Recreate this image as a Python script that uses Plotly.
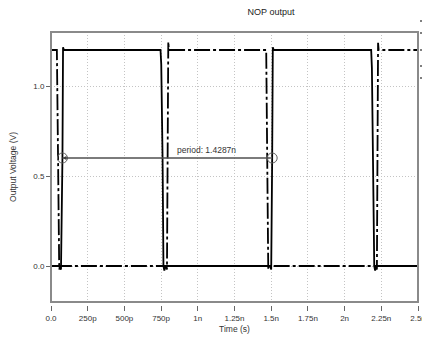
import plotly.graph_objects as go

# Time in ns, voltage in V
solid_t = [0.0, 0.055, 0.068, 0.078, 0.082, 0.088,
           0.746, 0.751, 0.760, 0.766, 0.772, 0.782,
           1.493, 1.500, 1.5067, 1.511, 1.517,
           2.181, 2.186, 2.195, 2.202, 2.208, 2.218, 2.5]
solid_v = [0.0, 0.0, -0.02, 0.6, 1.215, 1.2,
           1.2, 1.12, 0.6, 0.0, -0.025, 0.0,
           0.0, -0.02, 0.6, 1.215, 1.2,
           1.2, 1.1, 0.3, 0.0, -0.025, 0.0, 0.0]

dashdot_t = [0.0, 0.040, 0.048, 0.056, 0.062,
             0.785, 0.790, 0.795, 0.799, 0.803,
             1.466, 1.473, 1.480, 1.486,
             2.216, 2.220, 2.224, 2.228, 2.232, 2.5]
dashdot_v = [1.2, 1.2, 0.6, -0.02, 0.0,
             0.0, -0.02, 0.6, 1.245, 1.2,
             1.2, 0.6, -0.02, 0.0,
             0.0, -0.02, 0.6, 1.24, 1.2, 1.2]

x_ticks = [0.0, 0.25, 0.5, 0.75, 1.0, 1.25, 1.5, 1.75, 2.0, 2.25, 2.5]
x_labels = ["0.0", "250p", "500p", "750p", "1n", "1.25n", "1.5n", "1.75n", "2n", "2.25n", "2.5n"]
y_ticks = [0.0, 0.5, 1.0]
y_labels = ["0.0", "0.5", "1.0"]

period_start = 0.078
period = 1.4287
period_level = 0.6
period_label_pos = (1.06, 0.645)

font = "Liberation Sans, Arial, sans-serif"
grid = "#c4c4c4"

fig = go.Figure()
fig.add_trace(go.Scatter(x=dashdot_t, y=dashdot_v, mode="lines",
                         line=dict(color="black", width=1.8, dash="16px,3px,3px,3px"),
                         showlegend=False, hoverinfo="skip"))
fig.add_trace(go.Scatter(x=solid_t, y=solid_v, mode="lines",
                         line=dict(color="black", width=1.8),
                         showlegend=False, hoverinfo="skip"))

# period marker
p_end = period_start + period
fig.add_trace(go.Scatter(x=[period_start, p_end], y=[period_level, period_level],
                         mode="lines+markers",
                         line=dict(color="#707070", width=1),
                         marker=dict(symbol="circle-open", size=10,
                                     color="#606060", line=dict(width=1)),
                         showlegend=False, hoverinfo="skip"))
fig.add_annotation(x=period_start, y=period_level, ax=p_end, ay=period_level,
                   xref="x", yref="y", axref="x", ayref="y", text="",
                   showarrow=True, arrowhead=2, arrowsize=0.8, arrowwidth=1,
                   arrowcolor="#404040")
fig.add_annotation(x=period_label_pos[0], y=period_label_pos[1],
                   xref="x", yref="y", text=f"period: {period}n",
                   showarrow=False, font=dict(family=font, size=8.5, color="#333"),
                   xanchor="center", yanchor="middle")

# frame
fig.add_shape(type="rect", xref="x domain", yref="y domain",
              x0=0, x1=1, y0=0, y1=1,
              line=dict(color="#8a8a8a", width=2))

# clipped legend samples at the right edge
for yp in [21, 33, 50, 66, 78]:
    fig.add_shape(type="line", xref="paper", yref="paper",
                  x0=(420 - 51) / 367, x1=(422 - 51) / 367,
                  y0=(305 - yp) / 273, y1=(305 - yp) / 273,
                  line=dict(color="#555", width=1.5))

fig.update_layout(
    width=422, height=339,
    margin=dict(l=51, r=4, t=32, b=34, autoexpand=False),
    paper_bgcolor="white", plot_bgcolor="white",
    font=dict(family=font, size=8.5, color="#333"),
    title=dict(text="NOP output", x=(271 - 51) / 367, xref="paper", xanchor="center",
               y=1 - 12 / 339, yanchor="middle",
               font=dict(family=font, size=9, color="#222")),
    xaxis=dict(range=[0, 2.5], tickvals=x_ticks, ticktext=x_labels,
               anchor="free", position=0, ticklabeloverflow="allow",
               automargin=False,
               ticks="outside", ticklen=5, tickcolor="#666", tickwidth=1,
               showline=False, zeroline=False,
               showgrid=True, gridcolor=grid, griddash="1px,2px", gridwidth=1,
               title=dict(text="Time (s)", standoff=4,
                          font=dict(family=font, size=8.5, color="#333")),
               tickfont=dict(family=font, size=8, color="#333")),
    yaxis=dict(range=[-0.2, 1.3], domain=[3 / 273, 1],
               tickvals=y_ticks, ticktext=y_labels, automargin=False,
               ticks="outside", ticklen=4, tickcolor="#666", tickwidth=1,
               showline=False, zeroline=False,
               showgrid=True, gridcolor=grid, griddash="1px,2px", gridwidth=1,
               title=dict(text="Output Voltage (V)", standoff=15,
                          font=dict(family=font, size=8.5, color="#333")),
               tickfont=dict(family=font, size=8, color="#333")),
)

fig.write_html("out.html")
